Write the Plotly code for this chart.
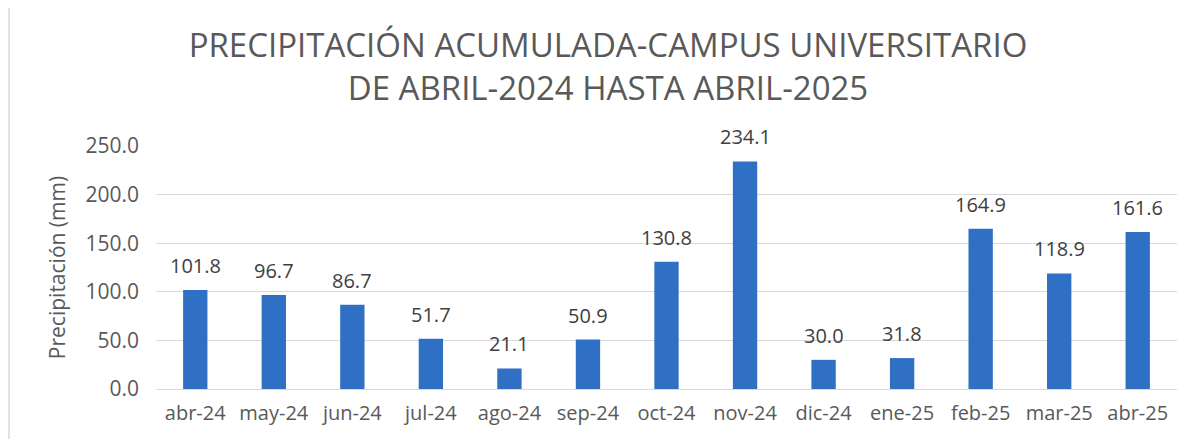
import plotly.graph_objects as go

months = ["abr-24", "may-24", "jun-24", "jul-24", "ago-24", "sep-24", "oct-24",
          "nov-24", "dic-24", "ene-25", "feb-25", "mar-25", "abr-25"]
precip = [101.8, 96.7, 86.7, 51.7, 21.1, 50.9, 130.8, 234.1, 30.0, 31.8, 164.9, 118.9, 161.6]
y_ticks = [0, 50, 100, 150, 200, 250]
y_tick_labels = ["0.0", "50.0", "100.0", "150.0", "200.0", "250.0"]

FONT = "Open Sans, Noto Sans, sans-serif"

fig = go.Figure(go.Bar(
    x=months, y=precip,
    marker=dict(color="#3070C4", line=dict(width=0)),
    cliponaxis=False,
))

for m, v in zip(months, precip):
    fig.add_annotation(x=m, y=v, text=f"{v:.1f}", showarrow=False,
                       yanchor="bottom", yshift=9,
                       font=dict(size=20, color="#404040", family=FONT))

fig.update_layout(
    width=1200, height=439,
    margin=dict(l=148, r=31, t=138, b=58),
    paper_bgcolor="white", plot_bgcolor="white",
    bargap=0.69,
    showlegend=False,
    title=dict(
        text="PRECIPITACIÓN ACUMULADA-CAMPUS UNIVERSITARIO<br>DE ABRIL-2024 HASTA ABRIL-2025",
        x=0.5, xanchor="center", yref="container", y=1 - 49 / 439, yanchor="top",
        font=dict(size=33, color="#595959", family=FONT),
    ),
    font=dict(family=FONT, color="#595959"),
)
fig.update_xaxes(
    showgrid=False, showline=True, linecolor="#d9d9d9", linewidth=1,
    ticks="", tickfont=dict(size=20, color="#595959"), ticklabelstandoff=6,
)
fig.update_yaxes(
    range=[0, 250], tickvals=y_ticks, ticktext=y_tick_labels,
    showgrid=True, gridcolor="#d9d9d9", gridwidth=1, zeroline=False,
    showline=False, ticks="", tickfont=dict(size=21, color="#595959"),
    ticklabelstandoff=16,
    title=dict(text="Precipitación (mm)", font=dict(size=21, color="#595959"), standoff=14),
)
fig.add_shape(type="line", xref="paper", yref="paper",
              x0=-147 / 1021, x1=-147 / 1021, y0=-0.4, y1=1.8,
              line=dict(color="#d9d9d9", width=1.5))

fig.write_html("out.html")
